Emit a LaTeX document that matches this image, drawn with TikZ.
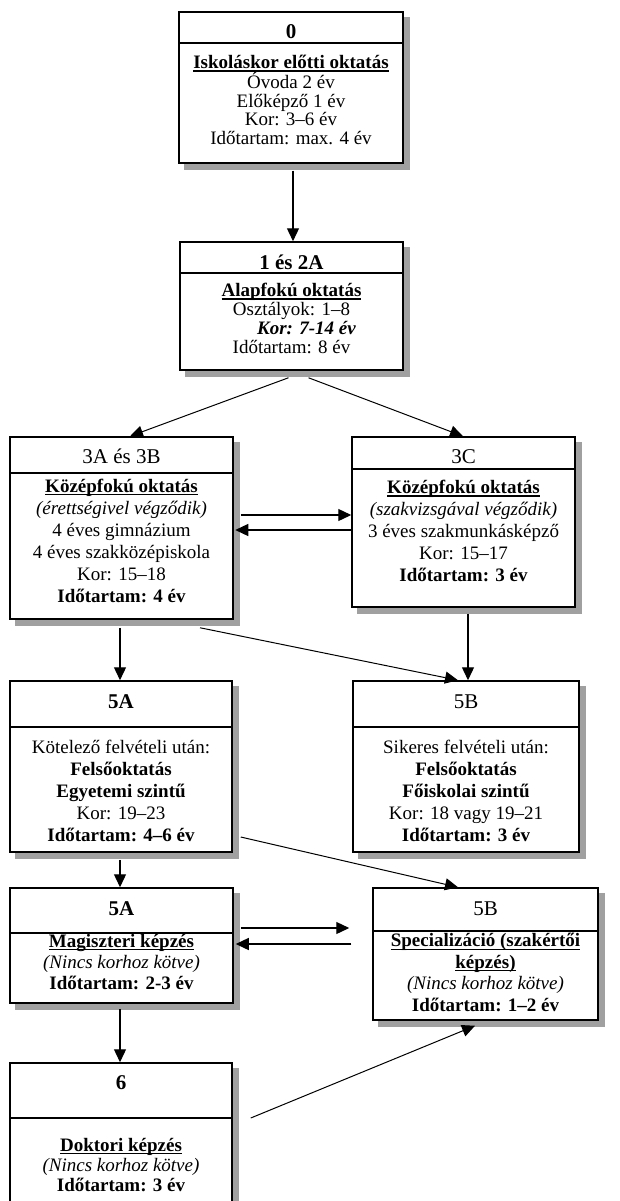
\documentclass[tikz,border=0pt]{standalone}
\usepackage{fontspec}
\setmainfont{Liberation Serif}
\usetikzlibrary{arrows.meta, backgrounds}
\definecolor{shgrey}{HTML}{A0A0A0}
\newsavebox\ulbox
\newcommand\ul[1]{\sbox\ulbox{#1}\rlap{\rule[-3pt]{\wd\ulbox}{1.3pt}}\usebox\ulbox}
\tikzset{
  every picture/.style={line width=1.3pt},
  box/.style={draw, fill=white, line width=1.5pt, inner sep=0pt},
  shadow/.style={fill=shgrey, draw=none},
  hd/.style={font=\fontsize{21}{24}\selectfont, inner sep=0pt},
  body/.style={font=\fontsize{19}{#1}\selectfont, align=center, inner sep=0pt},
  body/.default=22,
  arrow/.style={-{Triangle[length=13pt, width=12pt]}},
  diag/.style={arrow, line width=1pt},
}

\begin{document}
\begin{tikzpicture}[x=1pt, y=-1pt]
  \useasboundingbox (0,0) rectangle (620,1201);
  \clip (0,0) rectangle (620,1201);
  % boxes
  \node[box, minimum width=224pt, minimum height=151pt] (b0) at (291,87.5) {};
  \node[box, minimum width=223pt, minimum height=128pt] (b1) at (291.5,306) {};
  \node[box, minimum width=223pt, minimum height=182pt] (b3ab) at (121.5,528) {};
  \node[box, minimum width=223pt, minimum height=170pt] (b3c) at (463.5,522) {};
  \node[box, minimum width=222pt, minimum height=171pt] (b5a) at (121,766.5) {};
  \node[box, minimum width=226pt, minimum height=171pt] (b5b) at (466,766.5) {};
  \node[box, minimum width=223pt, minimum height=115pt] (b5a2) at (121.5,945.5) {};
  \node[box, minimum width=225pt, minimum height=132pt] (b5b2) at (485.5,954) {};
  \node[box, minimum width=222pt, minimum height=154pt] (b6) at (121,1140) {};
  \begin{scope}[on background layer]
    \foreach \n in {b0, b1, b3ab, b3c, b5a, b5b, b5a2, b5b2, b6}
      \fill[shadow] ([shift={(6pt,-6pt)}]\n.south west) rectangle ([shift={(6pt,-6pt)}]\n.north east);
  \end{scope}
  \foreach \n/\y in {b0/43, b1/273, b3ab/473, b3c/469, b5a/727, b5b/727, b5a2/933, b5b2/931, b6/1118}
    \draw[line width=1.5pt] (\n.west |- 0,\y) -- (\n.east |- 0,\y);
  % titles
  \node[hd] (t0) at (291,32) {\textbf{0}};
  \node[hd] (t1) at (291.5,262) {\textbf{1 és 2A}};
  \node[hd] (t3ab) at (121.5,456) {3A és 3B};
  \node[hd] (t3c) at (463.5,457) {3C};
  \node[hd] (t5a) at (121,702) {\textbf{5A}};
  \node[hd] (t5b) at (466,702) {5B};
  \node[hd] (t5a2) at (121.5,909) {\textbf{5A}};
  \node[hd] (t5b2) at (485.5,909) {5B};
  \node[hd] (t6) at (121,1083) {\textbf{6}};
  % texts
  \node[body=18.5] (x0) at (291,100) {\ul{\textbf{Iskoláskor előtti oktatás}}\\Óvoda 2 év\\Előképző 1 év\\Kor: 3–6 év\\Időtartam: max. 4 év};
  \node[body=19] (x1) at (291.5,318.5) {\ul{\textbf{Alapfokú oktatás}}\\Osztályok: 1–8\\\hspace*{30pt}\textbf{\textit{Kor: 7-14 év}}\\Időtartam: 8 év};
  \node[body] (x3ab) at (121.5,540.5) {\ul{\textbf{Középfokú oktatás}}\\\textit{(érettségivel végződik)}\\4 éves gimnázium\\4 éves szakközépiskola\\Kor: 15–18\\\textbf{Időtartam: 4 év}};
  \node[body] (x3c) at (463.5,531) {\ul{\textbf{Középfokú oktatás}}\\\textit{(szakvizsgával végződik)}\\3 éves szakmunkásképző\\Kor: 15–17\\\textbf{Időtartam: 3 év}};
  \node[body] (x5a) at (121,791) {Kötelező felvételi után:\\\textbf{Felsőoktatás}\\\textbf{Egyetemi szintű}\\Kor: 19–23\\\textbf{Időtartam: 4–6 év}};
  \node[body] (x5b) at (466,791) {Sikeres felvételi után:\\\textbf{Felsőoktatás}\\\textbf{Főiskolai szintű}\\Kor: 18 vagy 19–21\\\textbf{Időtartam: 3 év}};
  \node[body=21] (x5a2) at (121.5,962) {\ul{\textbf{Magiszteri képzés}}\\\textit{(Nincs korhoz kötve)}\\\textbf{Időtartam: 2-3 év}};
  \node[body=21.5] (x5b2) at (485.5,972.5) {\ul{\textbf{Specializáció (szakértői}}\\\ul{\textbf{képzés)}}\\\textit{(Nincs korhoz kötve)}\\\textbf{Időtartam: 1–2 év}};
  \node[body=20] (x6) at (121,1165) {\ul{\textbf{Doktori képzés}}\\\textit{(Nincs korhoz kötve)}\\\textbf{Időtartam: 3 év}};
  % arrows
  \draw[arrow] ([xshift=2pt,yshift=-7pt]b0.south) -- ([xshift=1.5pt]b1.north);
  \draw[diag] ([xshift=-3pt,yshift=-7pt]b1.south) -- ([xshift=8.5pt]b3ab.north);
  \draw[diag] ([xshift=17pt,yshift=-7pt]b1.south) -- ([xshift=-0.5pt]b3c.north);
  \draw[arrow] ([xshift=7pt,yshift=13pt]b3ab.east) -- ([yshift=7pt]b3c.west);
  \draw[arrow] ([yshift=-8pt]b3c.west) -- ([xshift=1.5pt,yshift=-2pt]b3ab.east);
  \draw[arrow] ([xshift=-1.5pt,yshift=-8pt]b3ab.south) -- ([xshift=-1pt]b5a.north);
  \draw[diag] ([xshift=78.5pt,yshift=-8pt]b3ab.south) -- ([xshift=-8pt]b5b.north);
  \draw[arrow] ([xshift=4.5pt,yshift=-6pt]b3c.south) -- ([xshift=2pt]b5b.north);
  \draw[arrow] ([xshift=-1pt,yshift=-7pt]b5a.south) -- ([xshift=-1.5pt]b5a2.north);
  \draw[diag] ([xshift=8pt,yshift=-70.5pt]b5a.east) -- ([xshift=-27.5pt]b5b2.north);
  \draw[arrow] ([xshift=7pt,yshift=17.5pt]b5a2.east) -- ([xshift=-23pt,yshift=26pt]b5b2.west);
  \draw[arrow] ([xshift=-21pt,yshift=10pt]b5b2.west) -- ([xshift=2pt,yshift=1.5pt]b5a2.east);
  \draw[arrow] ([xshift=-1.5pt,yshift=-5pt]b5a2.south) -- ([xshift=-1pt]b6.north);
  \draw[diag] ([xshift=18pt,yshift=22pt]b6.east) -- ([xshift=-10.5pt,yshift=-5pt]b5b2.south);
\end{tikzpicture}
\end{document}
